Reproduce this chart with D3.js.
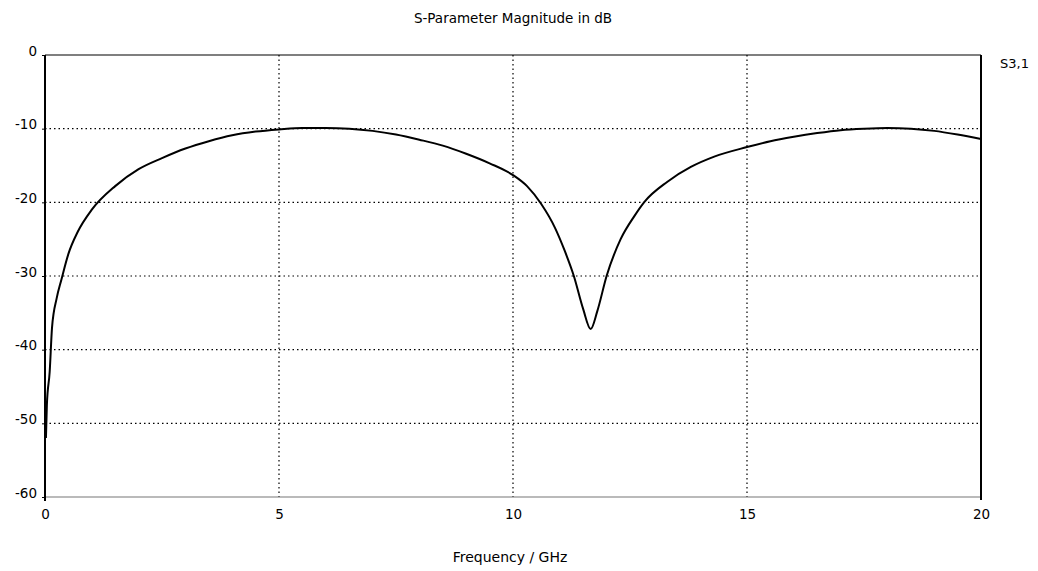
<!DOCTYPE html>
<html>
<head>
<meta charset="utf-8">
<script src="https://cdn.jsdelivr.net/npm/d3@7"></script>
<style>
  body { margin: 0; background: #fff; }
  text { font-family: "DejaVu Sans", sans-serif; fill: #000; }
</style>
</head>
<body>
<div id="chart"></div>
<script>
// S3,1 magnitude
const freq = [0.02, 0.04, 0.1, 0.15, 0.25, 0.35, 0.5, 0.7, 1.0, 1.5, 2.0, 2.5, 3.0, 3.5, 4.0, 4.5, 5.0, 5.5, 6.0, 6.5,
  7.0, 7.5, 8.0, 8.5, 9.0, 9.5, 10.0, 10.3, 10.6, 10.9, 11.1, 11.3, 11.5, 11.66, 11.8, 12.0, 12.3, 12.6, 12.8,
  13.3, 13.8, 14.3, 15.0, 15.5, 16.0, 16.5, 17.0, 17.5, 18.0, 18.5, 19.0, 19.5, 20.0];
const s31 = [-52, -47.5, -43, -37, -33, -30.5, -27, -24, -21, -17.8, -15.5, -14, -12.7, -11.7, -10.9, -10.4, -10.1, -9.9, -9.9, -10.0,
  -10.3, -10.8, -11.5, -12.3, -13.4, -14.7, -16.3, -17.8, -20.2, -23.5, -26.5, -30, -34.5, -37.2, -34.8, -30, -25, -21.8, -20,
  -17.2, -15.2, -13.8, -12.5, -11.7, -11.1, -10.6, -10.2, -10.0, -9.9, -10.0, -10.3, -10.8, -11.4];
const xTicks = [0, 5, 10, 15, 20];
const yTicks = [0, -10, -20, -30, -40, -50, -60];

const width = 1038, height = 571;
const margin = {top: 55, right: 57, bottom: 74, left: 45};

const svg = d3.select("#chart").append("svg")
  .attr("width", width)
  .attr("height", height);

const x = d3.scaleLinear().domain([0, 20]).range([margin.left, width - margin.right]);
const y = d3.scaleLinear().domain([-60, 0]).range([height - margin.bottom, margin.top]);

// dotted grid
svg.append("g")
  .selectAll("line")
  .data(xTicks.filter(d => d > 0 && d < 20))
  .join("line")
  .attr("x1", d => x(d)).attr("x2", d => x(d))
  .attr("y1", y(0)).attr("y2", y(-60))
  .attr("stroke", "#000").attr("stroke-width", 1.2)
  .attr("stroke-dasharray", "1.5,3");

svg.append("g")
  .selectAll("line")
  .data(yTicks.filter(d => d < 0 && d > -60))
  .join("line")
  .attr("x1", x(0)).attr("x2", x(20))
  .attr("y1", d => y(d)).attr("y2", d => y(d))
  .attr("stroke", "#000").attr("stroke-width", 1.2)
  .attr("stroke-dasharray", "1.5,3");

// frame
svg.append("line")
  .attr("x1", x(0)).attr("x2", x(20)).attr("y1", y(0)).attr("y2", y(0))
  .attr("stroke", "#000").attr("stroke-width", 1.2);
svg.append("line")
  .attr("x1", x(0)).attr("x2", x(20)).attr("y1", y(-60)).attr("y2", y(-60))
  .attr("stroke", "#777").attr("stroke-width", 1.2);
svg.append("line")
  .attr("x1", x(20)).attr("x2", x(20)).attr("y1", y(0)).attr("y2", y(-60) + 3)
  .attr("stroke", "#000").attr("stroke-width", 2);

// axes
const yAxis = svg.append("g")
  .attr("transform", "translate(" + x(0) + ",0)")
  .call(d3.axisLeft(y).tickValues(yTicks).tickSize(3).tickPadding(5).tickFormat(d => String(d)));
yAxis.select(".domain").remove();
yAxis.selectAll("text").attr("font-size", 13.5).attr("dy", "0").attr("font-family", "DejaVu Sans");
yAxis.selectAll(".tick line").attr("stroke", "#000");

svg.append("line")
  .attr("x1", x(0)).attr("x2", x(0)).attr("y1", y(0)).attr("y2", y(-60) + 4)
  .attr("stroke", "#000").attr("stroke-width", 2);

const xAxis = svg.append("g")
  .attr("transform", "translate(0," + y(-60) + ")")
  .call(d3.axisBottom(x).tickValues(xTicks).tickSize(0).tickPadding(12).tickFormat(d => String(d)));
xAxis.select(".domain").remove();
xAxis.selectAll("text").attr("font-size", 13.5).attr("font-family", "DejaVu Sans");

// curve
const line = d3.line()
  .x((d, i) => x(freq[i]))
  .y(d => y(d))
  .curve(d3.curveMonotoneX);

svg.append("path")
  .datum(s31)
  .attr("fill", "none")
  .attr("stroke", "#000")
  .attr("stroke-width", 2)
  .attr("d", line);

// labels
svg.append("text")
  .attr("x", 513).attr("y", 23)
  .attr("text-anchor", "middle")
  .attr("font-size", 13.5)
  .text("S-Parameter Magnitude in dB");

svg.append("text")
  .attr("x", 510).attr("y", 562)
  .attr("text-anchor", "middle")
  .attr("font-size", 14)
  .text("Frequency / GHz");

svg.append("text")
  .attr("x", 1000).attr("y", 68)
  .attr("font-size", 13)
  .text("S3,1");
</script>
</body>
</html>
